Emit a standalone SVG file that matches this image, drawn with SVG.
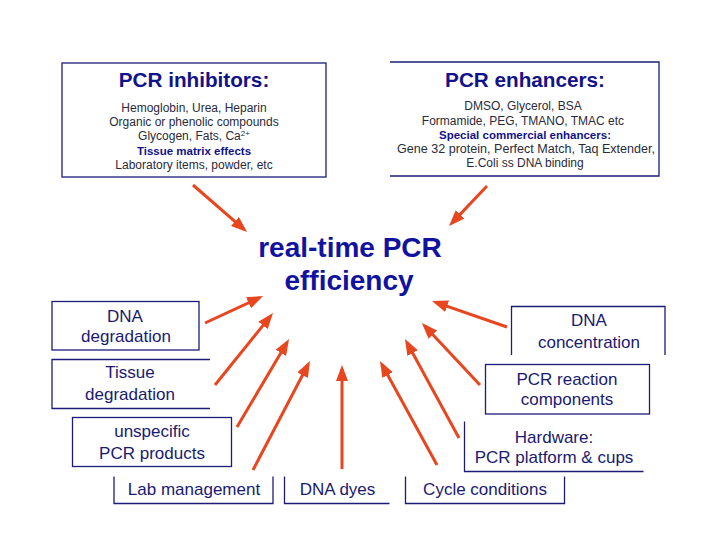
<svg xmlns="http://www.w3.org/2000/svg" width="720" height="540" viewBox="0 0 720 540">
<style>
  .bx{fill:none;stroke:#1c1c78;stroke-width:1.3}
  .hd{font-family:"Liberation Sans",Arial,sans-serif;font-weight:bold;font-size:20.7px;fill:#12128a;text-anchor:middle}
  .bd{font-family:"Liberation Sans",Arial,sans-serif;font-size:12px;fill:#2a2a3a;text-anchor:middle}
  .bb{font-family:"Liberation Sans",Arial,sans-serif;font-size:11.5px;font-weight:bold;fill:#12128a;text-anchor:middle}
  .lb{font-family:"Liberation Sans",Arial,sans-serif;font-size:17px;fill:#1a1a70;text-anchor:middle}
  .tt{font-family:"Liberation Sans",Arial,sans-serif;font-weight:bold;font-size:28px;fill:#1212a0;text-anchor:middle}
  .ar{stroke:#e8461e;stroke-width:3;fill:none;marker-end:url(#ah)}
</style>
<defs>
  <marker id="ah" markerUnits="userSpaceOnUse" markerWidth="16" markerHeight="12" refX="12" refY="6" orient="auto">
    <path d="M0,0 L16,6 L0,12 z" fill="#e8461e"/>
  </marker>
</defs>
<rect width="720" height="540" fill="#ffffff"/>

<g id="inhibitors">
  <rect class="bx" x="62" y="63" width="264" height="114"/>
  <text class="hd" x="194" y="87">PCR inhibitors:</text>
  <text class="bd" x="194" y="112">Hemoglobin, Urea, Heparin</text>
  <text class="bd" x="194" y="126">Organic or phenolic compounds</text>
  <text class="bd" x="194" y="140">Glycogen, Fats, Ca<tspan font-size="8" dy="-4">2+</tspan></text>
  <text class="bb" x="194" y="154.5">Tissue matrix effects</text>
  <text class="bd" x="194" y="168.5">Laboratory items, powder, etc</text>
</g>

<g id="enhancers">
  <path class="bx" d="M390,62 H659 V176 H390"/>
  <text class="hd" x="525" y="87">PCR enhancers:</text>
  <text class="bd" x="523" y="110">DMSO, Glycerol, BSA</text>
  <text class="bd" x="523" y="124.5">Formamide, PEG, TMANO, TMAC etc</text>
  <text class="bb" x="525" y="138.5">Special commercial enhancers:</text>
  <text class="bd" x="526" y="153" textLength="258" lengthAdjust="spacingAndGlyphs">Gene 32 protein, Perfect Match, Taq Extender,</text>
  <text class="bd" x="525" y="167">E.Coli ss DNA binding</text>
</g>

<g id="title">
  <text class="tt" x="350" y="257">real-time PCR</text>
  <text class="tt" x="349" y="290">efficiency</text>
</g>

<g id="dna-degradation">
  <rect class="bx" x="52" y="301.5" width="147" height="48.5"/>
  <text class="lb" x="125" y="322">DNA</text>
  <text class="lb" x="126" y="342">degradation</text>
</g>

<g id="tissue-degradation">
  <path class="bx" d="M210,359.5 H52 V408.5 H210"/>
  <text class="lb" x="130" y="378">Tissue</text>
  <text class="lb" x="130" y="400">degradation</text>
</g>

<g id="unspecific">
  <rect class="bx" x="72.5" y="417.5" width="159" height="49"/>
  <text class="lb" x="152" y="437">unspecific</text>
  <text class="lb" x="152" y="458.5">PCR products</text>
</g>

<g id="lab-management">
  <path class="bx" d="M114,476.5 V503.5 H273 V476.5"/>
  <text class="lb" x="194" y="495">Lab management</text>
</g>

<g id="dna-dyes">
  <path class="bx" d="M284.5,476.5 V503.5 H389.5"/>
  <text class="lb" x="337.5" y="495">DNA dyes</text>
</g>

<g id="cycle-conditions">
  <path class="bx" d="M405.5,476.5 V503.5 H564.5 V476.5"/>
  <text class="lb" x="485" y="495">Cycle conditions</text>
</g>

<g id="hardware">
  <path class="bx" d="M464.5,421.5 V471.5 H643.5"/>
  <text class="lb" x="554" y="443">Hardware:</text>
  <text class="lb" x="554" y="463">PCR platform &amp; cups</text>
</g>

<g id="pcr-reaction">
  <rect class="bx" x="485.5" y="364.5" width="164" height="49.5"/>
  <text class="lb" x="567" y="385">PCR reaction</text>
  <text class="lb" x="567" y="405">components</text>
</g>

<g id="dna-concentration">
  <path class="bx" d="M511.5,355 V306.5 H665 V355"/>
  <text class="lb" x="589" y="326">DNA</text>
  <text class="lb" x="589" y="348">concentration</text>
</g>

<g id="connectors">
  <line class="ar" x1="193" y1="185" x2="244" y2="229.4"/>
  <line class="ar" x1="487" y1="186" x2="451.8" y2="223.1"/>
  <line class="ar" x1="205" y1="323" x2="259.4" y2="297.7"/>
  <line class="ar" x1="215" y1="385" x2="270.5" y2="316.1"/>
  <line class="ar" x1="237" y1="427" x2="287" y2="342.5"/>
  <line class="ar" x1="253" y1="470" x2="308.1" y2="364.5"/>
  <line class="ar" x1="342" y1="469" x2="342" y2="369"/>
  <line class="ar" x1="437" y1="465" x2="381.9" y2="364.5"/>
  <line class="ar" x1="459" y1="438" x2="406.9" y2="342.5"/>
  <line class="ar" x1="480" y1="385" x2="424.7" y2="325.9"/>
  <line class="ar" x1="507" y1="327" x2="435.8" y2="302.3"/>
</g>
</svg>
